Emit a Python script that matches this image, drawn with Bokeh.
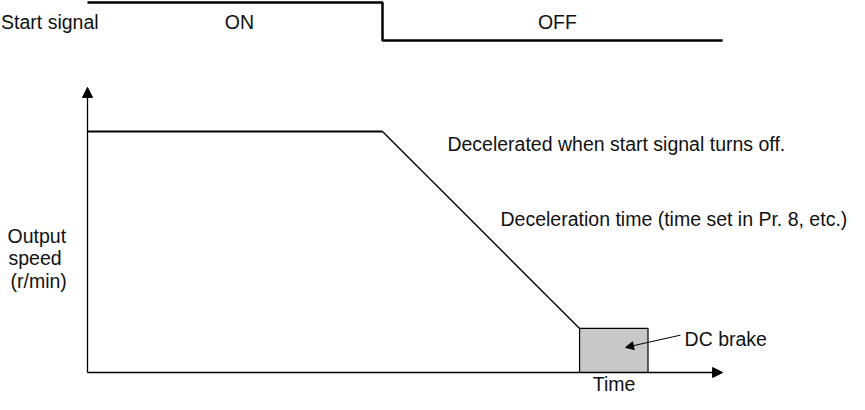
from bokeh.plotting import figure
from bokeh.models import Range1d, Arrow, NormalHead, Label
from bokeh.embed import file_html
from bokeh.resources import INLINE

# ---- data (arbitrary units) ----
# output speed profile: constant speed, then deceleration ramp
speed_time = [0.0, 10.0, 16.68]
speed_vals = [100.0, 100.0, 18.3]
# DC brake interval
brake_time = [16.68, 19.0]
brake_level = 18.3
# start signal: ON (1) then OFF (0)
signal_time = [0.0, 10.0, 10.0, 21.53]
signal_vals = [1, 1, 0, 0]
signal_states = ["ON", "OFF"]
# axis extents
time_max = 21.53
speed_max = 118.3

FONT = "Liberation Sans"
FS = "19.5px"

p = figure(width=849, height=394, output_backend="svg", toolbar_location=None,
           x_axis_location=None, y_axis_location=None, min_border=0,
           x_range=Range1d(-87 / 29.5, 762 / 29.5),
           y_range=Range1d(-22 / 2.41, 372 / 2.41))
p.outline_line_color = None
p.grid.visible = False
p.extra_y_ranges = {"sig": Range1d(-354 / 38, 1 + 2 / 38)}

# start signal trace
p.line(signal_time, signal_vals, y_range_name="sig", line_color="black", line_width=2.5)

# speed profile
p.line(speed_time[:2], speed_vals[:2], line_color="black", line_width=2.2)
p.line(speed_time[1:], speed_vals[1:], line_color="black", line_width=1.4)

# DC brake box
p.quad(left=[brake_time[0]], right=[brake_time[1]], bottom=[0], top=[brake_level],
       fill_color="#c8c8c8", line_color="black", line_width=1.2)

# axes with arrow heads
p.add_layout(Arrow(x_start=0, y_start=0, x_end=0, y_end=speed_max,
                   line_color="black", line_width=1.3,
                   end=NormalHead(size=10, fill_color="black", line_color="black")))
p.add_layout(Arrow(x_start=0, y_start=0, x_end=time_max, y_end=0,
                   line_color="black", line_width=1.3,
                   end=NormalHead(size=10, fill_color="black", line_color="black")))

# DC brake pointer
p.add_layout(Arrow(x_start=20.1, y_start=15.5, x_end=18.24, y_end=10.4,
                   line_color="black", line_width=1,
                   end=NormalHead(size=8, fill_color="black", line_color="black")))

def lab(x, y, t, align="left", rng="default"):
    p.add_layout(Label(x=x, y=y, text=t, text_font=FONT, text_font_size=FS,
                       text_color="#111111", text_align=align, text_baseline="alphabetic",
                       y_range_name=rng))

lab(-2.93, 0.484, "Start signal", rng="sig")
lab(5.15, 0.50, signal_states[0], align="center", rng="sig")
lab(15.93, 0.50, signal_states[1], align="center", rng="sig")

lab(12.2, 95.0, "Decelerated when start signal turns off.")
lab(14.0, 63.9, "Deceleration time (time set in Pr. 8, etc.)")
lab(20.24, 14.1, "DC brake")
lab(17.85, -4.6, "Time", align="center")

lab(-2.71, 56.8, "Output")
lab(-2.68, 47.5, "speed")
lab(-2.61, 37.8, "(r/min)")

open("out.html", "w").write(file_html(p, INLINE))
